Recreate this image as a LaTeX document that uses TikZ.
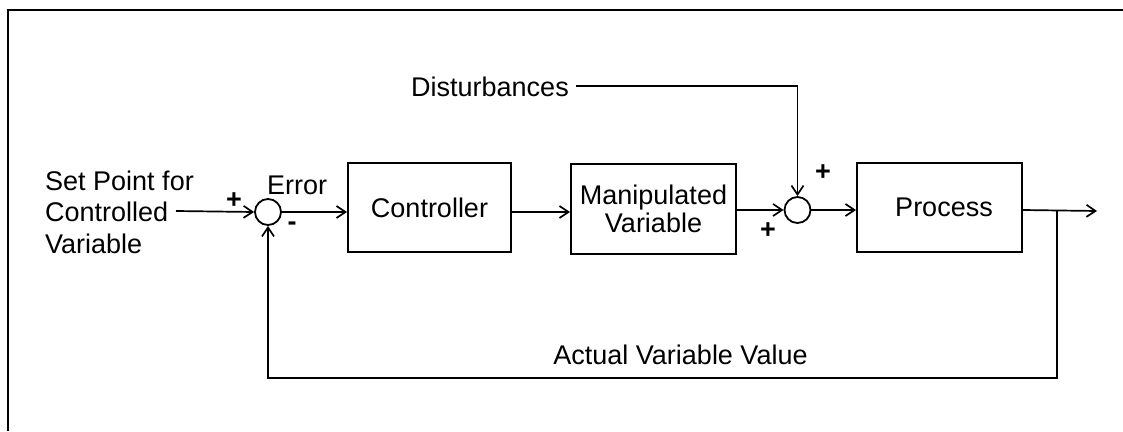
\documentclass[tikz,border=0pt]{standalone}
\usepackage{fontspec}
\setmainfont{Liberation Sans}
\usetikzlibrary{arrows.meta}
\begin{document}
\begin{tikzpicture}[x=1pt,y=-1pt,
  every node/.style={font=\fontsize{27}{31.5}\selectfont, inner sep=0pt},
  blk/.style={draw, line width=2pt, align=center},
  sum/.style={draw, circle, line width=1.8pt, minimum size=26pt},
  conn/.style={line width=1.7pt, -{Straight Barb[length=9pt,width=12pt,line width=1.7pt]}},
  sign/.style={font=\fontsize{27}{27}\bfseries\selectfont}]
\useasboundingbox (0,0) rectangle (1123,431);
\draw[line width=2pt] (8,431) -- (8,10) -- (1123,10);

% blocks
\node[blk, minimum width=163pt, minimum height=89pt] (ctrl) at (429.5,207.5) {Controller};
\node[blk, minimum width=165pt, minimum height=90pt] (mv) at (653.5,209) {Manipulated\\[-3pt]Variable};
\node[blk, minimum width=165pt, minimum height=89pt] (proc) at (939.5,207.5) {\hspace*{9pt}Process};

% summing junctions
\node[sum] (s1) at (268,212) {};
\node[sum] (s2) at (797.5,210) {};

% labels
\node[anchor=west, align=left] (sp) at (45,212) {Set Point for\\Controlled\\Variable};
\node[anchor=west] (err) at (267,185) {Error};
\node[anchor=west] (dist) at (411,87) {Disturbances};
\node (avv) at (680.5,355) {Actual Variable Value};
\node[sign] (p1) at (234,201) {+};
\node[sign] (m1) at (292,226) {-};
\node[sign] (p2) at (768,231) {+};
\node[sign] (p3) at (823,173) {+};

% coordinates
\coordinate (in) at (176,211);
\coordinate (out) at (1097,211);
\coordinate (br) at (1057,211);
\coordinate (fb) at (268,378);

% connectors
\draw[conn] (in) -- (s1.west);
\draw[conn] (s1.east) -- (s1.east -| ctrl.west);
\draw[conn] (s1.east -| ctrl.east) -- (s1.east -| mv.west);
\draw[conn] (s2.west -| mv.east) -- (s2.west);
\draw[conn] (s2.east) -- (s2.east -| proc.west);
\draw[conn] (s2.east -| proc.east) -- (out);
\draw[conn] ([xshift=7pt,yshift=1pt]dist.east) -| (s2.north);
\draw[conn] (br) |- (fb) -- (s1.south);
\end{tikzpicture}
\end{document}
